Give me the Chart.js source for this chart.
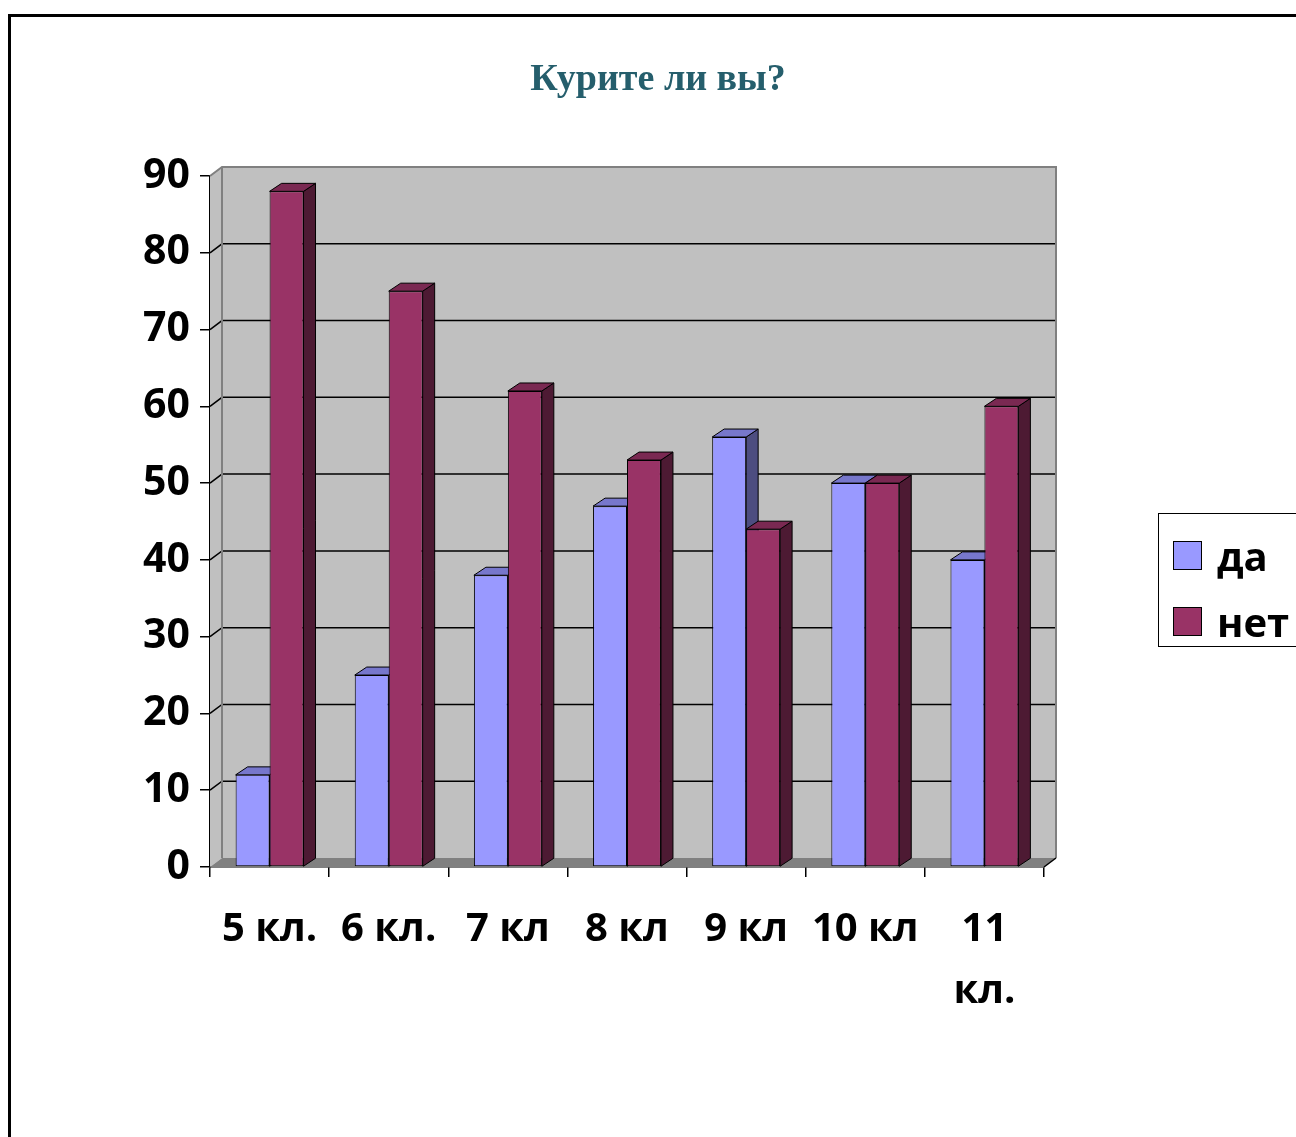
<!DOCTYPE html>
<html lang="ru">
<head>
<meta charset="utf-8">
<title>Курите ли вы?</title>
<script src="https://cdn.jsdelivr.net/npm/chart.js@4/dist/chart.umd.min.js"></script>
<style>
    html, body { margin: 0; padding: 0; background: #fff; overflow: hidden; }
    #frame {
        position: absolute; left: 8px; top: 14px; width: 1400px; height: 1200px;
        border: 3px solid #000; box-sizing: border-box;
    }
    #wrap { position: absolute; left: 0; top: 0; width: 1296px; height: 1137px; }
    #legend {
        position: absolute; left: 1158px; top: 513px; width: 140px; height: 134px;
        border: 1.5px solid #000; box-sizing: border-box; background: #fff;
        font-family: 'Open Sans', sans-serif; font-weight: bold; font-size: 40px; color: #000;
    }
    .item { position: absolute; left: 14px; display: flex; align-items: center; }
    .swatch { width: 29px; height: 29px; border: 1px solid #000; box-sizing: border-box; margin-right: 15px; }
</style>
</head>
<body>
<div id="frame"></div>
<div id="wrap"><canvas id="chart"></canvas></div>
<div id="legend">
    <div class="item" style="top: 14px;"><div class="swatch" style="background:#9999ff"></div><span>да</span></div>
    <div class="item" style="top: 80px;"><div class="swatch" style="background:#993366"></div><span>нет</span></div>
</div>
<script>
// Данные
const categories = ['5 кл.', '6 кл.', '7 кл', '8 кл', '9 кл', '10 кл', ['11', 'кл.']];
const daValues = [12, 25, 38, 47, 56, 50, 40];
const netValues = [88, 75, 62, 53, 44, 50, 60];

// Цвета граней (перед, верх, бок)
const faces = [
    { front: '#9999ff', top: '#7777cc', side: '#4d4d80' },
    { front: '#993366', top: '#7a2952', side: '#4d1a33' }
];

const WALL_DX = 12, WALL_DY = -9;
const BAR_DX = 12, BAR_DY = -8;

// Псевдо-3D: стены, пол, сетка и грани столбиков
const depthPlugin = {
    id: 'depth',
    beforeDatasetsDraw(chart) {
        const ctx = chart.ctx;
        const { left: L, right: R, top: T, bottom: B } = chart.chartArea;
        const yScale = chart.scales.y;

        ctx.save();
        // задняя стена
        ctx.fillStyle = '#c0c0c0';
        ctx.fillRect(L + WALL_DX, T + WALL_DY, R - L, B - T);
        // левая стена
        ctx.beginPath();
        ctx.moveTo(L, T);
        ctx.lineTo(L + WALL_DX, T + WALL_DY);
        ctx.lineTo(L + WALL_DX, B + WALL_DY);
        ctx.lineTo(L, B);
        ctx.closePath();
        ctx.fill();
        // пол
        ctx.fillStyle = '#808080';
        ctx.beginPath();
        ctx.moveTo(L, B);
        ctx.lineTo(L + WALL_DX, B + WALL_DY);
        ctx.lineTo(R + WALL_DX, B + WALL_DY);
        ctx.lineTo(R, B);
        ctx.closePath();
        ctx.fill();

        // линии сетки
        ctx.strokeStyle = '#000';
        ctx.lineWidth = 1.5;
        yScale.ticks.forEach(t => {
            if (t.value <= 0 || t.value >= 90) return;
            const y = yScale.getPixelForValue(t.value);
            ctx.beginPath();
            ctx.moveTo(L, y);
            ctx.lineTo(L + WALL_DX, y + WALL_DY);
            ctx.lineTo(R + WALL_DX, y + WALL_DY);
            ctx.stroke();
        });

        // контур стен
        ctx.strokeStyle = '#808080';
        ctx.lineWidth = 2;
        ctx.beginPath();
        ctx.moveTo(L, T);
        ctx.lineTo(L + WALL_DX, T + WALL_DY);
        ctx.lineTo(R + WALL_DX, T + WALL_DY);
        ctx.lineTo(R + WALL_DX, B + WALL_DY);
        ctx.moveTo(L + WALL_DX, T + WALL_DY);
        ctx.lineTo(L + WALL_DX, B + WALL_DY);
        ctx.stroke();
        ctx.strokeStyle = '#000';
        ctx.lineWidth = 1.5;
        ctx.beginPath();
        ctx.moveTo(R, B);
        ctx.lineTo(R + WALL_DX, B + WALL_DY);
        ctx.stroke();

        // верх и бок каждого столбика
        ctx.lineWidth = 1;
        ctx.strokeStyle = '#000';
        chart.data.datasets.forEach((ds, i) => {
            const meta = chart.getDatasetMeta(i);
            meta.data.forEach(bar => {
                const l = bar.x - bar.width / 2;
                const r = bar.x + bar.width / 2;
                const y = bar.y, base = bar.base;
                ctx.fillStyle = faces[i].side;
                ctx.beginPath();
                ctx.moveTo(r, y);
                ctx.lineTo(r + BAR_DX, y + BAR_DY);
                ctx.lineTo(r + BAR_DX, base + BAR_DY);
                ctx.lineTo(r, base);
                ctx.closePath();
                ctx.fill();
                ctx.stroke();
                ctx.fillStyle = faces[i].top;
                ctx.beginPath();
                ctx.moveTo(l, y);
                ctx.lineTo(l + BAR_DX, y + BAR_DY);
                ctx.lineTo(r + BAR_DX, y + BAR_DY);
                ctx.lineTo(r, y);
                ctx.closePath();
                ctx.fill();
                ctx.stroke();
            });
        });
        ctx.restore();
    }
};

const tickFont = { family: "'Open Sans', sans-serif", weight: 'bold', size: 40 };

new Chart(document.getElementById('chart'), {
    type: 'bar',
    data: {
        labels: categories,
        datasets: [
            {
                label: 'да',
                data: daValues,
                backgroundColor: faces[0].front,
                borderColor: '#000',
                borderWidth: 1,
                borderSkipped: false
            },
            {
                label: 'нет',
                data: netValues,
                backgroundColor: faces[1].front,
                borderColor: '#000',
                borderWidth: 1,
                borderSkipped: false
            }
        ]
    },
    options: {
        responsive: true,
        maintainAspectRatio: false,
        animation: false,
        events: [],
        datasets: {
            bar: { categoryPercentage: 0.57, barPercentage: 1.0 }
        },
        layout: { padding: { left: 20, right: 0, top: 0, bottom: 0 } },
        plugins: {
            legend: { display: false },
            tooltip: { enabled: false },
            title: {
                display: true,
                text: 'Курите ли вы?',
                color: '#255e6c',
                font: { family: "'Liberation Serif', serif", weight: 'bold', size: 38 },
                padding: { top: 57, bottom: 73.4 }
            }
        },
        scales: {
            x: {
                grid: {
                    offset: true,
                    drawOnChartArea: false,
                    color: '#000',
                    tickLength: 10,
                    lineWidth: 1.5
                },
                border: { display: true, color: '#000', width: 1.5 },
                ticks: {
                    color: '#000',
                    font: { ...tickFont, lineHeight: 1.55 },
                    padding: 22,
                    maxRotation: 0,
                    autoSkip: false
                },
                afterFit(scale) { scale.height = 270; }
            },
            y: {
                min: 0,
                max: 90,
                grid: {
                    drawOnChartArea: false,
                    color: '#000',
                    tickLength: 10,
                    lineWidth: 1.5
                },
                border: { display: true, color: '#000', width: 1.5 },
                ticks: {
                    stepSize: 10,
                    color: '#000',
                    font: { ...tickFont, size: 41 },
                    padding: 10
                },
                afterFit(scale) { scale.width = 190; }
            },
            // пустое место справа под легенду
            spacer: {
                type: 'linear',
                position: 'right',
                display: true,
                grid: { display: false },
                border: { display: false },
                ticks: { display: false },
                afterFit(scale) { scale.width = 252; }
            }
        }
    },
    plugins: [depthPlugin]
});
</script>
</body>
</html>
